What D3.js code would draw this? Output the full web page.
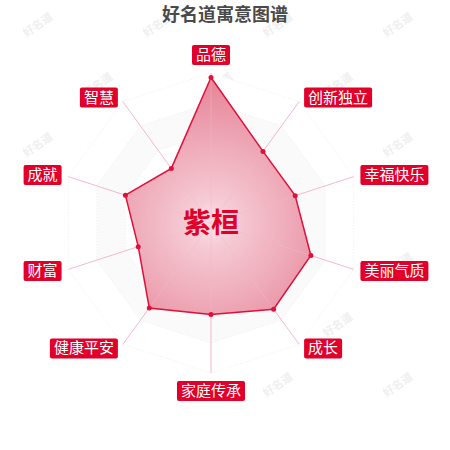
<!DOCTYPE html>
<html lang="zh">
<head>
    <meta charset="utf-8">
    <title>好名道寓意图谱</title>
    <script src="https://d3js.org/d3.v7.min.js"></script>
    <style>
        body {
            margin: 0;
            background: #fff;
        }

        text {
            font-family: "Noto Sans CJK SC", "Noto Sans", sans-serif;
        }

        .axis-line {
            stroke: #f0a8b8;
            stroke-width: 0.8;
        }

        .ring {
            fill: none;
            stroke: #e8e8e8;
            stroke-width: 0.8;
            stroke-dasharray: 1 2;
        }

        .area {
            stroke: #e0103a;
            stroke-width: 1.5;
        }

        .dot {
            fill: #e0103a;
        }

        .label-box {
            fill: #e0002a;
        }

        .label-text {
            fill: #fff;
            font-size: 15px;
        }

        .watermark {
            fill: #efefef;
            font-size: 11px;
            font-weight: bold;
        }
    </style>
</head>
<body>
<div id="chart"></div>

<script>
    // values (0 - 100)
    var indicators = ["品德", "创新独立", "幸福快乐", "美丽气质", "成长", "家庭传承", "健康平安", "财富", "成就", "智慧"];
    var scores = [97, 59, 59, 70, 71, 61, 70, 51, 60, 45];
    var maxScore = 100;
    var title = "好名道寓意图谱";
    var personName = "紫桓";

    var w = 450;
    var h = 450;
    var cx = 211;
    var cy = 223;
    var radius = 150;
    var splitCount = 5;

    var svg = d3.select("#chart")
        .append("svg")
        .attr("width", w)
        .attr("height", h);

    var defs = svg.append("defs");
    var grad = defs.append("radialGradient")
        .attr("id", "areaFill")
        .attr("gradientUnits", "userSpaceOnUse")
        .attr("cx", cx)
        .attr("cy", cy)
        .attr("r", radius);
    grad.append("stop").attr("offset", "0%").attr("stop-color", "#fbe6ec");
    grad.append("stop").attr("offset", "15%").attr("stop-color", "#f5c6d1");
    grad.append("stop").attr("offset", "100%").attr("stop-color", "#e37389");

    // watermark, kept inside the picture
    var wm = svg.append("g");
    for (var j = 0; j < 8; j++) {
        for (var i = 0; i < 5; i++) {
            var wx = -80 + i * 120 + j * 60;
            var wy = 28 + j * 60;
            if (wx < 25 || wx > 425 || wy > 430) continue;
            wm.append("text")
                .attr("class", "watermark")
                .attr("transform", `translate(${wx},${wy}) rotate(-35)`)
                .attr("text-anchor", "middle")
                .text("好名道");
        }
    }

    var n = indicators.length;
    var rScale = d3.scaleLinear().domain([0, maxScore]).range([0, radius]);
    var angle = d3.scaleLinear().domain([0, n]).range([0, 2 * Math.PI]);

    function px(i, r) { return cx + r * Math.sin(angle(i)); }
    function py(i, r) { return cy - r * Math.cos(angle(i)); }

    function ringPath(l) {
        var r = radius * l / splitCount;
        return d3.line()(d3.range(n).map(i => [px(i, r), py(i, r)])) + "Z";
    }

    var chart = svg.append("g");

    // split areas (alternating faint shading) and rings
    var levels = d3.range(splitCount, 0, -1);
    chart.selectAll(".split")
        .data(levels)
        .enter()
        .append("path")
        .attr("d", ringPath)
        .attr("fill", (l) => l % 2 === 0 ? "#fafafa" : "#ffffff");

    chart.selectAll(".ring")
        .data(levels)
        .enter()
        .append("path")
        .attr("class", "ring")
        .attr("d", ringPath);

    chart.selectAll(".axis-line")
        .data(indicators)
        .enter()
        .append("line")
        .attr("class", "axis-line")
        .attr("x1", cx)
        .attr("y1", cy)
        .attr("x2", (d, i) => px(i, radius))
        .attr("y2", (d, i) => py(i, radius));

    // data area
    var pts = scores.map((v, i) => [px(i, rScale(v)), py(i, rScale(v))]);
    chart.append("path")
        .attr("class", "area")
        .attr("d", d3.line()(pts) + "Z")
        .attr("fill", "url(#areaFill)")
        .attr("fill-opacity", 0.9);

    // radial lines visible through the area
    chart.selectAll(".inner-line")
        .data(indicators)
        .enter()
        .append("line")
        .attr("x1", cx)
        .attr("y1", cy)
        .attr("x2", (d, i) => px(i, rScale(scores[i])))
        .attr("y2", (d, i) => py(i, rScale(scores[i])))
        .attr("stroke", "#f4c4cf")
        .attr("stroke-width", 0.8)
        .attr("opacity", 0.6);

    chart.selectAll(".dot")
        .data(pts)
        .enter()
        .append("circle")
        .attr("class", "dot")
        .attr("cx", d => d[0])
        .attr("cy", d => d[1])
        .attr("r", 2.5);

    // indicator labels
    var labelR = radius + 5;
    indicators.forEach(function(name, i) {
        var s = Math.sin(angle(i));
        var c = Math.cos(angle(i));
        var ax = px(i, labelR);
        var ay = py(i, labelR);
        var tw = name.length * 15;
        var bw = tw + 8;
        var bh = 20;
        var bx, by;
        if (Math.abs(s) < 0.01) bx = ax - bw / 2;
        else if (s > 0) bx = ax + 2;
        else bx = ax - bw - 2;
        if (c > 0.99) by = ay - bh - 3;
        else if (c < -0.99) by = ay + 3;
        else by = ay - bh / 2;

        var g = chart.append("g");
        g.append("rect")
            .attr("class", "label-box")
            .attr("x", bx)
            .attr("y", by)
            .attr("width", bw)
            .attr("height", bh)
            .attr("rx", 2);
        g.append("text")
            .attr("class", "label-text")
            .attr("x", bx + bw / 2)
            .attr("y", by + bh / 2 + 5)
            .attr("text-anchor", "middle")
            .text(name);
    });

    // center name
    svg.append("text")
        .attr("x", cx)
        .attr("y", cy + 10)
        .attr("text-anchor", "middle")
        .style("font-size", "28px")
        .style("font-weight", "bold")
        .style("fill", "#e0002a")
        .text(personName);

    // title
    svg.append("text")
        .attr("x", w / 2)
        .attr("y", 21)
        .attr("text-anchor", "middle")
        .style("font-size", "18px")
        .style("font-weight", "bold")
        .style("fill", "#4a4a4a")
        .text(title);
</script>
</body>
</html>
